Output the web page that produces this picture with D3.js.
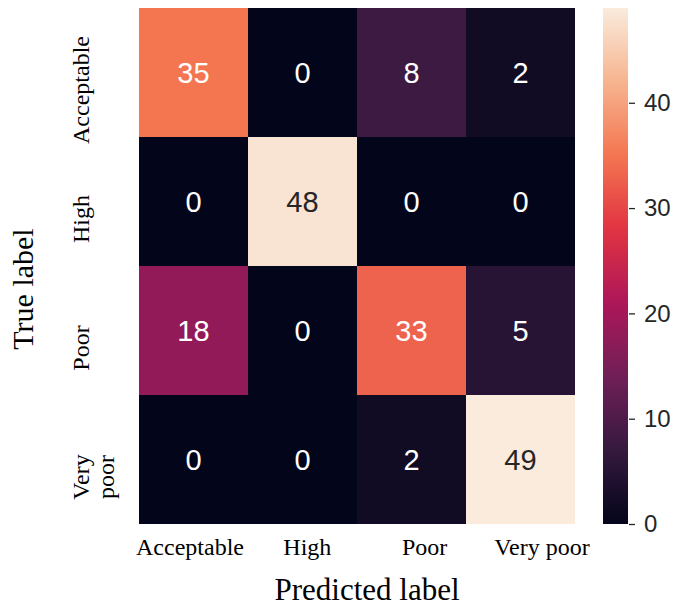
<!DOCTYPE html>
<html>
<head>
<meta charset="utf-8">
<script src="https://cdn.jsdelivr.net/npm/d3@7"></script>
<style>
  html, body { margin: 0; padding: 0; background: #ffffff; }
  svg { display: block; }
</style>
</head>
<body>
<svg id="chart" width="678" height="606"></svg>
<script>
// Confusion matrix: rows = true label, columns = predicted label
const categories = ["Acceptable", "High", "Poor", "Very poor"];
const rowLabelLines = [["Acceptable"], ["High"], ["Poor"], ["Very", "poor"]];
const matrix = [
  [35, 0, 8, 2],
  [0, 48, 0, 0],
  [18, 0, 33, 5],
  [0, 0, 2, 49]
];
const colorbarTicks = [0, 10, 20, 30, 40];

// "rocket" colour map anchors
const rocketStops = ["#03051a", "#35193e", "#701f57", "#ad1759", "#e13342", "#f37651", "#f6b48f", "#faebdd"];
const rocketPos = [0, 1/7, 2/7, 3/7, 4/7, 5/7, 6/7, 1];

const svg = d3.select("#chart");

const vmin = 0, vmax = d3.max(matrix.flat());
const rocket = d3.scaleLinear().domain(rocketPos).range(rocketStops).interpolate(d3.interpolateRgb);
const color = v => rocket((v - vmin) / (vmax - vmin));

// heatmap area
const hmLeft = 139, hmTop = 8, hmRight = 575, hmBottom = 524;
const x = d3.scaleBand().domain(categories).range([hmLeft, hmRight]);
const y = d3.scaleBand().domain(categories).range([hmTop, hmBottom]);

const cells = [];
matrix.forEach((row, i) => row.forEach((v, j) => cells.push({ r: categories[i], c: categories[j], v })));

const g = svg.append("g");
g.selectAll("rect.cell").data(cells).join("rect")
  .attr("class", "cell")
  .attr("x", d => x(d.c))
  .attr("y", d => y(d.r))
  .attr("width", x.bandwidth())
  .attr("height", y.bandwidth())
  .attr("fill", d => color(d.v))
  .attr("shape-rendering", "crispEdges");

g.selectAll("text.annot").data(cells).join("text")
  .attr("class", "annot")
  .attr("x", d => x(d.c) + x.bandwidth() / 2)
  .attr("y", d => y(d.r) + y.bandwidth() / 2)
  .attr("dy", "0.36em")
  .attr("text-anchor", "middle")
  .attr("font-family", "'Liberation Sans', Arial, sans-serif")
  .attr("font-size", 29)
  .attr("fill", d => d3.hsl(color(d.v)).l > 0.7 ? "#262626" : "#ffffff")
  .text(d => d.v);

// x tick labels (predicted)
const xLab = d3.scalePoint().domain(categories).range([190, 542]);
svg.append("g").selectAll("text").data(categories).join("text")
  .attr("x", d => xLab(d))
  .attr("y", 555)
  .attr("text-anchor", "middle")
  .attr("font-family", "'Liberation Serif', 'Times New Roman', serif")
  .attr("font-size", 24)
  .attr("fill", "#000")
  .text(d => d);

// y tick labels (true), rotated; multi-word labels wrap onto a second line
const yLab = d3.scalePoint().domain(categories).range([90, 477]);
const yl = svg.append("g").selectAll("g").data(categories).join("g")
  .attr("transform", d => `translate(89,${yLab(d)}) rotate(-90)`);
yl.each(function(d, i) {
  d3.select(this).selectAll("text").data(rowLabelLines[i]).join("text")
    .attr("x", 0)
    .attr("y", (l, k) => k * 25)
    .attr("text-anchor", "middle")
    .attr("font-family", "'Liberation Serif', 'Times New Roman', serif")
    .attr("font-size", 24)
    .attr("fill", "#000")
    .text(l => l);
});

// axis titles
svg.append("text")
  .attr("transform", "translate(33,289) rotate(-90)")
  .attr("text-anchor", "middle")
  .attr("font-family", "'Liberation Serif', 'Times New Roman', serif")
  .attr("font-size", 30)
  .attr("fill", "#000")
  .text("True label");

svg.append("text")
  .attr("x", 367)
  .attr("y", 600)
  .attr("text-anchor", "middle")
  .attr("font-family", "'Liberation Serif', 'Times New Roman', serif")
  .attr("font-size", 31)
  .attr("fill", "#000")
  .text("Predicted label");

// colour bar
const cbX = 603, cbW = 25;
const cbScale = d3.scaleLinear().domain([vmin, vmax]).range([hmBottom, hmTop]);
const defs = svg.append("defs");
const grad = defs.append("linearGradient").attr("id", "cbgrad")
  .attr("x1", 0).attr("y1", 1).attr("x2", 0).attr("y2", 0);
d3.range(0, 1.0001, 0.02).forEach(t => {
  grad.append("stop").attr("offset", t).attr("stop-color", rocket(t));
});
svg.append("rect")
  .attr("x", cbX).attr("y", hmTop)
  .attr("width", cbW).attr("height", hmBottom - hmTop)
  .attr("fill", "url(#cbgrad)");

const cbAxis = d3.axisRight(cbScale).tickValues(colorbarTicks).tickSize(6).tickPadding(9);
const cbG = svg.append("g")
  .attr("transform", `translate(${cbX + cbW + 1},0)`)
  .call(cbAxis);
cbG.select(".domain").remove();
cbG.selectAll(".tick line").attr("stroke", "#262626").attr("stroke-width", 1.3);
cbG.selectAll(".tick text")
  .attr("font-family", "'Liberation Sans', Arial, sans-serif")
  .attr("font-size", 24)
  .attr("fill", "#262626");
</script>
</body>
</html>
